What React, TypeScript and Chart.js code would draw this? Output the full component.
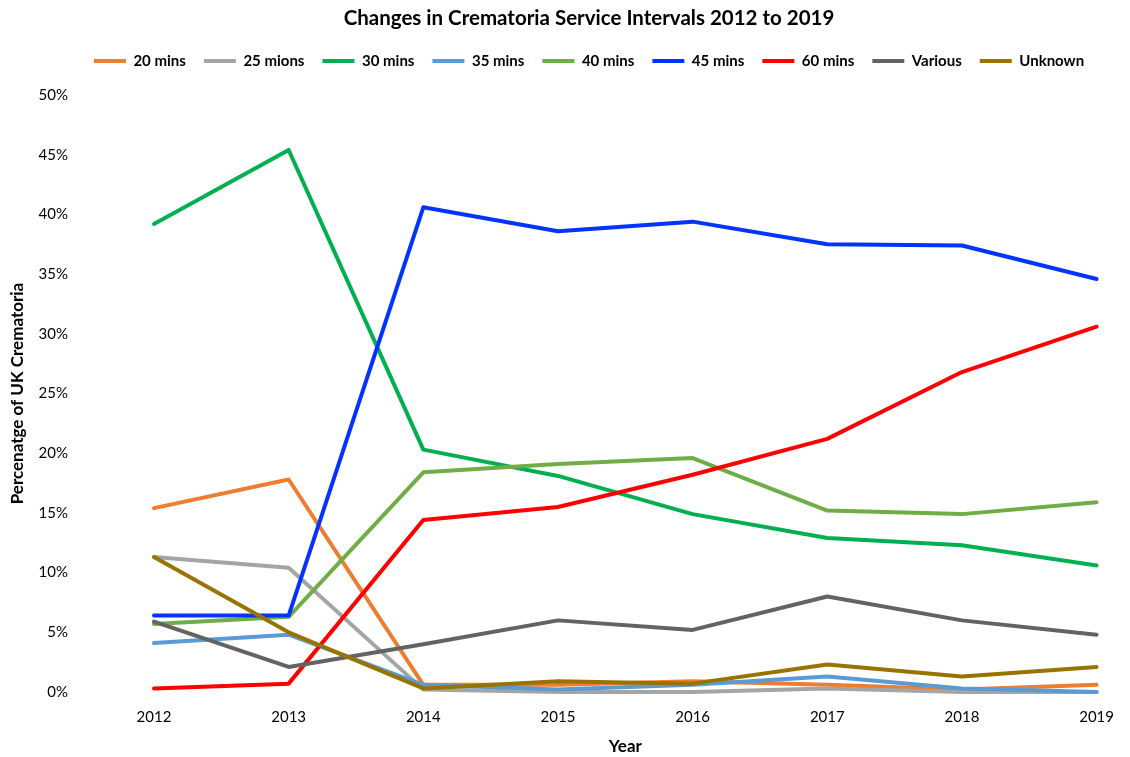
import React, { useEffect, useRef } from "react";
import { Chart, registerables } from "chart.js";

Chart.register(...registerables);

const years = ["2012", "2013", "2014", "2015", "2016", "2017", "2018", "2019"];
const seriesNames = ["20 mins", "25 mions", "30 mins", "35 mins", "40 mins", "45 mins", "60 mins", "Various", "Unknown"];
const seriesColors = ["#ED7D31", "#A5A5A5", "#00B050", "#5B9BD5", "#70AD47", "#0433FF", "#FF0000", "#636363", "#997300"];

const mins20 = [15.4, 17.8, 0.6, 0.6, 0.9, 0.6, 0.2, 0.6];
const mins25 = [11.3, 10.4, 0.2, 0.0, 0.0, 0.3, 0.0, 0.0];
const mins30 = [39.2, 45.4, 20.3, 18.1, 14.9, 12.9, 12.3, 10.6];
const mins35 = [4.1, 4.8, 0.6, 0.2, 0.6, 1.3, 0.3, 0.0];
const mins40 = [5.7, 6.3, 18.4, 19.1, 19.6, 15.2, 14.9, 15.9];
const mins45 = [6.4, 6.4, 40.6, 38.6, 39.4, 37.5, 37.4, 34.6];
const mins60 = [0.3, 0.7, 14.4, 15.5, 18.2, 21.2, 26.8, 30.6];
const various = [5.9, 2.1, 4.0, 6.0, 5.2, 8.0, 6.0, 4.8];
const unknown = [11.3, 5.0, 0.3, 0.9, 0.7, 2.3, 1.3, 2.1];

const seriesValues = [mins20, mins25, mins30, mins35, mins40, mins45, mins60, various, unknown];

const yTickMax = 50;
const yTickStep = 5;

const FONT = "Lato, 'Open Sans', sans-serif";

export default function App() {
  const canvasRef = useRef<HTMLCanvasElement | null>(null);

  useEffect(() => {
    if (!canvasRef.current) return;
    const n = seriesNames.length;
    const chart = new Chart(canvasRef.current, {
      type: "line",
      data: {
        labels: years,
        datasets: seriesNames.map((name, i) => ({
          label: name,
          data: seriesValues[i],
          borderColor: seriesColors[i],
          backgroundColor: seriesColors[i],
          borderWidth: 4,
          pointRadius: 0,
          pointHoverRadius: 0,
          tension: 0,
          fill: false,
          clip: false,
          borderCapStyle: "round",
          borderJoinStyle: "round",
          order: n - 1 - i,
        })),
      },
      options: {
        animation: false,
        responsive: true,
        maintainAspectRatio: false,
        layout: { padding: { left: 0, right: 24, top: 0, bottom: 0 } },
        plugins: {
          title: {
            display: true,
            text: "Changes in Crematoria Service Intervals 2012 to 2019",
            color: "#000",
            font: { family: FONT, size: 20.5, weight: "bold" },
            padding: { top: 6, bottom: 5 },
          },
          legend: {
            display: true,
            position: "top",
            labels: {
              color: "#000",
              font: { family: FONT, size: 15, weight: "bold" },
              boxWidth: 32,
              boxHeight: 4,
              padding: 18,
              sort: (a: any, b: any) => a.datasetIndex - b.datasetIndex,
              generateLabels: (ch: any) => {
                const items = Chart.defaults.plugins.legend.labels.generateLabels(ch);
                return items.map((it: any) => ({
                  ...it,
                  fillStyle: seriesColors[it.datasetIndex],
                  strokeStyle: seriesColors[it.datasetIndex],
                  lineWidth: 0,
                }));
              },
            },
          },
          tooltip: { enabled: false },
        },
        scales: {
          x: {
            type: "category",
            offset: false,
            grid: { display: false, drawTicks: false },
            border: { display: false },
            ticks: {
              color: "#000",
              font: { family: FONT, size: 15 },
              padding: 16,
              maxRotation: 0,
              autoSkip: false,
            },
            title: {
              display: true,
              text: "Year",
              color: "#000",
              font: { family: FONT, size: 17, weight: "bold" },
              padding: { top: 0, bottom: 0 },
            },
            afterFit: (s: any) => {
              s.height = 65;
            },
          },
          y: {
            min: 0,
            max: yTickMax,
            grid: { display: false, drawTicks: false },
            border: { display: false },
            ticks: {
              stepSize: yTickStep,
              color: "#000",
              font: { family: FONT, size: 15 },
              padding: 86,
              callback: (v: any) => `${v}%`,
            },
            title: {
              display: true,
              text: "Percenatge of UK Crematoria",
              color: "#000",
              font: { family: FONT, size: 17, weight: "bold" },
              padding: { top: 7, bottom: 0 },
            },
            afterFit: (s: any) => {
              s.width = 154;
              s.paddingTop = 0;
              s.paddingBottom = 0;
            },
          },
        },
      },
      plugins: [
        {
          id: "legendSpacer",
          afterInit(ch: any) {
            const lg = ch.legend;
            if (lg && !lg.__patched) {
              const orig = lg.fit;
              lg.fit = function () {
                orig.call(this);
                this.height += 16.5;
              };
              lg.__patched = true;
            }
          },
          afterLayout(ch: any) {
            for (const b of [ch.titleBlock, ch.legend]) {
              if (b) {
                b.left += 36;
                b.right += 36;
              }
            }
          },
        },
      ],
    } as any);
    return () => chart.destroy();
  }, []);

  return (
    <div style={{ position: "absolute", left: 0, top: 0, width: 1130, height: 757, background: "#fff" }}>
      <canvas ref={canvasRef} />
    </div>
  );
}
